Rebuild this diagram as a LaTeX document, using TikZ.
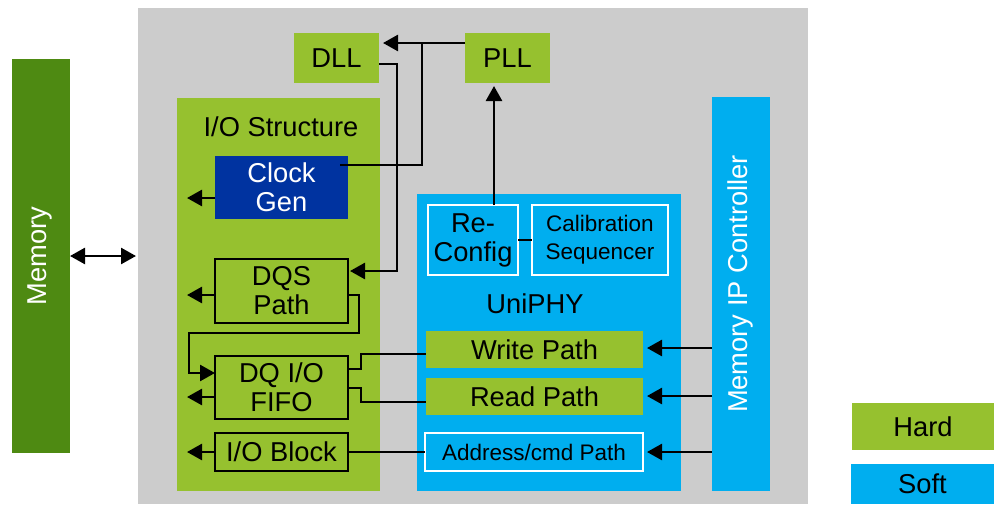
\documentclass[tikz,border=0pt]{standalone}
\usepackage{fontspec}
\setmainfont{Liberation Sans}
\usetikzlibrary{arrows.meta,calc}
\definecolor{hardgreen}{RGB}{150,193,47}
\definecolor{softblue}{RGB}{0,174,239}
\definecolor{darkblue}{RGB}{0,51,160}
\definecolor{memgreen}{RGB}{78,138,18}
\definecolor{bggray}{RGB}{204,204,204}
\newcommand{\bigtxt}{\fontsize{27.3}{29}\selectfont}
\newcommand{\smalltxt}{\fontsize{22.5}{28}\selectfont}
\begin{document}
\begin{tikzpicture}[x=1pt,y=-1pt,
  box/.style={rectangle, inner sep=0pt, outer sep=0pt, anchor=north west, align=center, font=\bigtxt},
  hard/.style={box, fill=hardgreen},
  soft/.style={box, fill=softblue},
  framed/.style={draw=black, line width=2.2pt},
  wframe/.style={draw=white, line width=1.6pt},
  conn/.style={line width=2.6pt, line join=miter},
  arr/.style={conn, -{Triangle[length=15pt,width=16pt]}},
  darr/.style={conn, {Triangle[length=15pt,width=16pt]}-{Triangle[length=15pt,width=16pt]}},
  vlabel/.style={rotate=90, text=white, font=\bigtxt, inner sep=0pt},
  label/.style={font=\bigtxt, inner sep=0pt, anchor=base},
]
\useasboundingbox (0,0) rectangle (994,504);
% chip area
\fill[bggray] (138,8) rectangle (808,504);

% external memory
\node[box, fill=memgreen, minimum width=58pt, minimum height=394pt] (mem) at (12,59) {};
\node[vlabel] (memlbl) at (40,256) {Memory};

% clock blocks
\node[hard, minimum width=85pt, minimum height=50pt] (dll) at (294,33) {DLL};
\node[hard, minimum width=85pt, minimum height=50pt] (pll) at (465,33) {PLL};

% I/O structure
\node[hard, minimum width=203pt, minimum height=393pt] (io) at (177,98) {};
\node[label] (iolbl) at (281,136) {I/O Structure};
\node[box, fill=darkblue, text=white, minimum width=133pt, minimum height=63pt] (clk) at (215,156) {Clock\\Gen};
\node[hard, framed, minimum width=133pt, minimum height=64pt] (dqs) at (215,259) {DQS\\Path};
\node[hard, framed, minimum width=133pt, minimum height=63pt] (dq) at (215,356) {DQ I/O\\FIFO};
\node[hard, framed, minimum width=133pt, minimum height=38pt] (iob) at (215,433) {I/O Block};

% UniPHY
\node[soft, minimum width=264pt, minimum height=297pt] (uni) at (417,194) {};
\node[soft, wframe, minimum width=90pt, minimum height=70pt] (recfg) at (428,205) {Re-\\Config};
\node[soft, wframe, minimum width=136pt, minimum height=70pt, font=\smalltxt] (calib) at (532,205) {Calibration\\Sequencer};
\node[label] (unilbl) at (535,313) {UniPHY};
\node[hard, minimum width=217pt, minimum height=37pt] (wr) at (426,331) {Write Path};
\node[hard, minimum width=217pt, minimum height=37pt] (rd) at (426,378) {Read Path};
\node[soft, wframe, minimum width=218pt, minimum height=38pt, font=\smalltxt] (addr) at (425,433) {Address/cmd Path};

% controller
\node[soft, minimum width=58pt, minimum height=394pt] (ctl) at (712,97) {};
\node[vlabel] (ctllbl) at (740,284) {Memory IP Controller};

% legend
\node[hard, minimum width=142pt, minimum height=47pt] (lhard) at (852,403) {Hard};
\node[soft, minimum width=143pt, minimum height=40pt] (lsoft) at (851,464) {Soft};

% routing points
\coordinate (memio) at (136,256);
\coordinate (jpll) at (422,43);
\coordinate (jclk) at (422,165);
\coordinate (dllA) at (397,64);
\coordinate (dllB) at (397,271);
\coordinate (pllin) at (494,205);
\coordinate (clkL) at (187,198);
\coordinate (dqsL) at (187,295);
\coordinate (dqsA) at (359,295);
\coordinate (dqsB) at (359,333);
\coordinate (dqsC) at (189,333);
\coordinate (dqsD) at (189,373);
\coordinate (dqL) at (187,397);
\coordinate (wrA) at (361,369);
\coordinate (wrB) at (361,354);
\coordinate (rdA) at (361,388);
\coordinate (rdB) at (361,402);
\coordinate (iobL) at (187,452);
\coordinate (cW) at (712,348);
\coordinate (cR) at (712,396);
\coordinate (cA) at (712,452);

% connectors
\draw[darr] (mem.east) -- (memio);
\draw[arr] (pll.west |- jpll) -- ($(dll.east |- jpll)+(4,0)$);
\draw[conn] (jpll) -- (jclk) -- ($(clk.east |- jclk)+(-8,0)$);
\draw[arr] (dll.east |- dllA) -- (dllA) -- (dllB) -- ($(dqs.east |- dllB)+(2,0)$);
\draw[arr] (pllin) -- ($(pll.south -| pllin)+(0,3)$);
\draw[arr] (clk.west |- clkL) -- (clkL);
\draw[arr] (dqs.west |- dqsL) -- (dqsL);
\draw[arr] (dqs.east |- dqsA) -- (dqsA) -- (dqsB) -- (dqsC) -- (dqsD) -- (dq.west |- dqsD);
\draw[arr] (dq.west |- dqL) -- (dqL);
\draw[conn] (dq.east |- wrA) -- (wrA) -- (wrB) -- (wr.west |- wrB);
\draw[conn] (dq.east |- rdA) -- (rdA) -- (rdB) -- (rd.west |- rdB);
\draw[arr] (iob.west |- iobL) -- (iobL);
\draw[conn] (iob.east) -- (addr.west);
\draw[conn] (recfg.east) -- (calib.west);
\draw[arr] (cW) -- ($(wr.east |- cW)+(4,0)$);
\draw[arr] (cR) -- ($(rd.east |- cR)+(4,0)$);
\draw[arr] (cA) -- ($(addr.east |- cA)+(4,0)$);
\end{tikzpicture}
\end{document}
